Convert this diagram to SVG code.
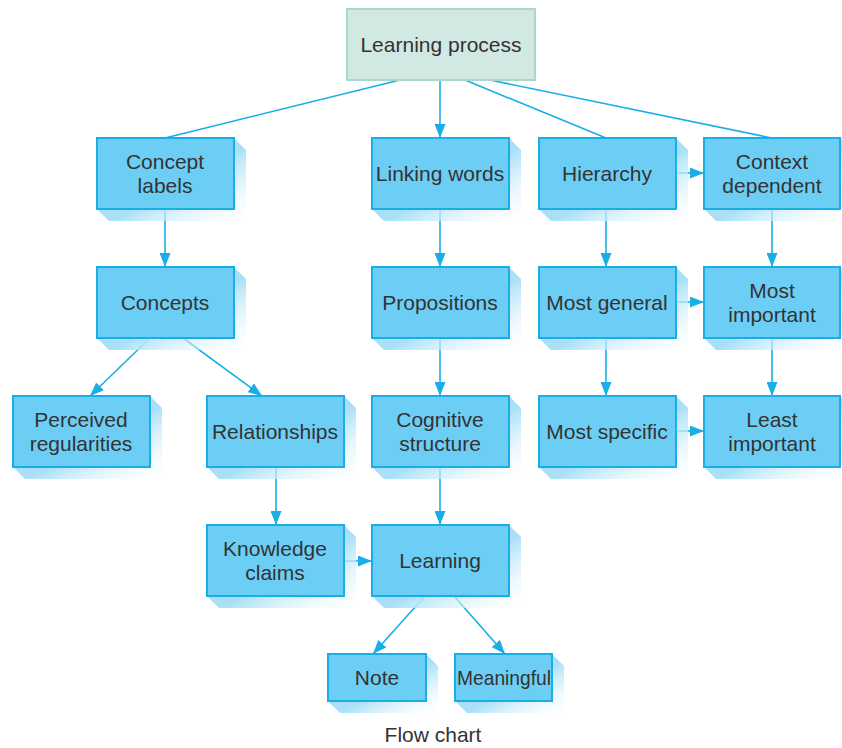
<svg xmlns="http://www.w3.org/2000/svg" width="842" height="748" viewBox="0 0 842 748">
<defs>
<linearGradient id="sh" x1="0" y1="0" x2="1" y2="1">
<stop offset="0.55" stop-color="#a9e0f7"/>
<stop offset="1" stop-color="#ffffff" stop-opacity="0.2"/>
</linearGradient>
<marker id="ah" viewBox="0 0 14 11" refX="14" refY="5.5" markerWidth="14" markerHeight="11" markerUnits="userSpaceOnUse" orient="auto">
<path d="M0,0 L14,5.5 L0,11 Z" fill="#1aaee8"/>
</marker>
<style>
.box{fill:#6dcef5;stroke:#1aaee8;stroke-width:2}
.top{fill:#d2e8e3;stroke:#a8d8cc;stroke-width:2}
.sh{fill:url(#sh)}
.t{font-family:"Liberation Sans",Arial,sans-serif;font-size:21px;fill:#333;text-anchor:middle}
.c{stroke:#1aaee8;stroke-width:1.6;fill:none}
.a{marker-end:url(#ah)}
</style>
</defs>
<rect width="842" height="748" fill="#fff"/>
<g id="connectors">
<line class="c" x1="400" y1="80" x2="165" y2="138"/>
<line class="c a" x1="440" y1="80" x2="440" y2="138"/>
<line class="c" x1="465" y1="80" x2="606" y2="138"/>
<line class="c" x1="490" y1="80" x2="772" y2="138"/>
<line class="c a" x1="165" y1="209" x2="165" y2="267"/>
<line class="c a" x1="150" y1="338" x2="90" y2="396"/>
<line class="c a" x1="183" y1="338" x2="262" y2="396"/>
<line class="c a" x1="276" y1="467" x2="276" y2="525"/>
<line class="c a" x1="344" y1="561" x2="372" y2="561"/>
<line class="c a" x1="440" y1="209" x2="440" y2="267"/>
<line class="c a" x1="440" y1="338" x2="440" y2="396"/>
<line class="c a" x1="440" y1="467" x2="440" y2="525"/>
<line class="c a" x1="425" y1="596" x2="373" y2="654"/>
<line class="c a" x1="454" y1="596" x2="505" y2="654"/>
<line class="c a" x1="676" y1="173" x2="704" y2="173"/>
<line class="c a" x1="606" y1="209" x2="606" y2="267"/>
<line class="c a" x1="676" y1="302" x2="704" y2="302"/>
<line class="c a" x1="606" y1="338" x2="606" y2="396"/>
<line class="c a" x1="676" y1="431" x2="704" y2="431"/>
<line class="c a" x1="772" y1="209" x2="772" y2="267"/>
<line class="c a" x1="772" y1="338" x2="772" y2="396"/>
</g>
<g id="learning-process">
<rect class="top" x="347" y="9" width="188" height="71"/>
<text class="t" x="441" y="52">Learning process</text>
</g>
<g id="concept-labels">
<polygon class="sh" points="234,138 246,150 246,221 109,221 97,209 234,209"/>
<rect class="box" x="97" y="138" width="137" height="71"/>
<text class="t" x="165" y="169">Concept</text><text class="t" x="165" y="193">labels</text>
</g>
<g id="linking-words">
<polygon class="sh" points="509,138 521,150 521,221 384,221 372,209 509,209"/>
<rect class="box" x="372" y="138" width="137" height="71"/>
<text class="t" x="440" y="181">Linking words</text>
</g>
<g id="hierarchy">
<polygon class="sh" points="676,138 688,150 688,221 551,221 539,209 676,209"/>
<rect class="box" x="539" y="138" width="137" height="71"/>
<text class="t" x="607" y="181">Hierarchy</text>
</g>
<g id="context-dependent">
<polygon class="sh" points="840,138 842,140 842,221 716,221 704,209 840,209"/>
<rect class="box" x="704" y="138" width="136" height="71"/>
<text class="t" x="772" y="169">Context</text><text class="t" x="772" y="193">dependent</text>
</g>
<g id="concepts">
<polygon class="sh" points="234,267 246,279 246,350 109,350 97,338 234,338"/>
<rect class="box" x="97" y="267" width="137" height="71"/>
<text class="t" x="165" y="310">Concepts</text>
</g>
<g id="propositions">
<polygon class="sh" points="509,267 521,279 521,350 384,350 372,338 509,338"/>
<rect class="box" x="372" y="267" width="137" height="71"/>
<text class="t" x="440" y="310">Propositions</text>
</g>
<g id="most-general">
<polygon class="sh" points="676,267 688,279 688,350 551,350 539,338 676,338"/>
<rect class="box" x="539" y="267" width="137" height="71"/>
<text class="t" x="607" y="310">Most general</text>
</g>
<g id="most-important">
<polygon class="sh" points="840,267 842,269 842,350 716,350 704,338 840,338"/>
<rect class="box" x="704" y="267" width="136" height="71"/>
<text class="t" x="772" y="298">Most</text><text class="t" x="772" y="322">important</text>
</g>
<g id="perceived-regularities">
<polygon class="sh" points="150,396 162,408 162,479 25,479 13,467 150,467"/>
<rect class="box" x="13" y="396" width="137" height="71"/>
<text class="t" x="81" y="427">Perceived</text><text class="t" x="81" y="451">regularities</text>
</g>
<g id="relationships">
<polygon class="sh" points="344,396 356,408 356,479 219,479 207,467 344,467"/>
<rect class="box" x="207" y="396" width="137" height="71"/>
<text class="t" x="275" y="439">Relationships</text>
</g>
<g id="cognitive-structure">
<polygon class="sh" points="509,396 521,408 521,479 384,479 372,467 509,467"/>
<rect class="box" x="372" y="396" width="137" height="71"/>
<text class="t" x="440" y="427">Cognitive</text><text class="t" x="440" y="451">structure</text>
</g>
<g id="most-specific">
<polygon class="sh" points="676,396 688,408 688,479 551,479 539,467 676,467"/>
<rect class="box" x="539" y="396" width="137" height="71"/>
<text class="t" x="607" y="439">Most specific</text>
</g>
<g id="least-important">
<polygon class="sh" points="840,396 842,398 842,479 716,479 704,467 840,467"/>
<rect class="box" x="704" y="396" width="136" height="71"/>
<text class="t" x="772" y="427">Least</text><text class="t" x="772" y="451">important</text>
</g>
<g id="knowledge-claims">
<polygon class="sh" points="344,525 356,537 356,608 219,608 207,596 344,596"/>
<rect class="box" x="207" y="525" width="137" height="71"/>
<text class="t" x="275" y="556">Knowledge</text><text class="t" x="275" y="580">claims</text>
</g>
<g id="learning">
<polygon class="sh" points="509,525 521,537 521,608 384,608 372,596 509,596"/>
<rect class="box" x="372" y="525" width="137" height="71"/>
<text class="t" x="440" y="568">Learning</text>
</g>
<g id="note">
<polygon class="sh" points="426,654 438,666 438,713 340,713 328,701 426,701"/>
<rect class="box" x="328" y="654" width="98" height="47"/>
<text class="t" x="377" y="685">Note</text>
</g>
<g id="meaningful">
<polygon class="sh" points="552,654 564,666 564,713 467,713 455,701 552,701"/>
<rect class="box" x="455" y="654" width="97" height="47"/>
<text class="t" x="504" y="685" textLength="94" lengthAdjust="spacingAndGlyphs">Meaningful</text>
</g>
<text class="t" x="433" y="742">Flow chart</text>
</svg>
